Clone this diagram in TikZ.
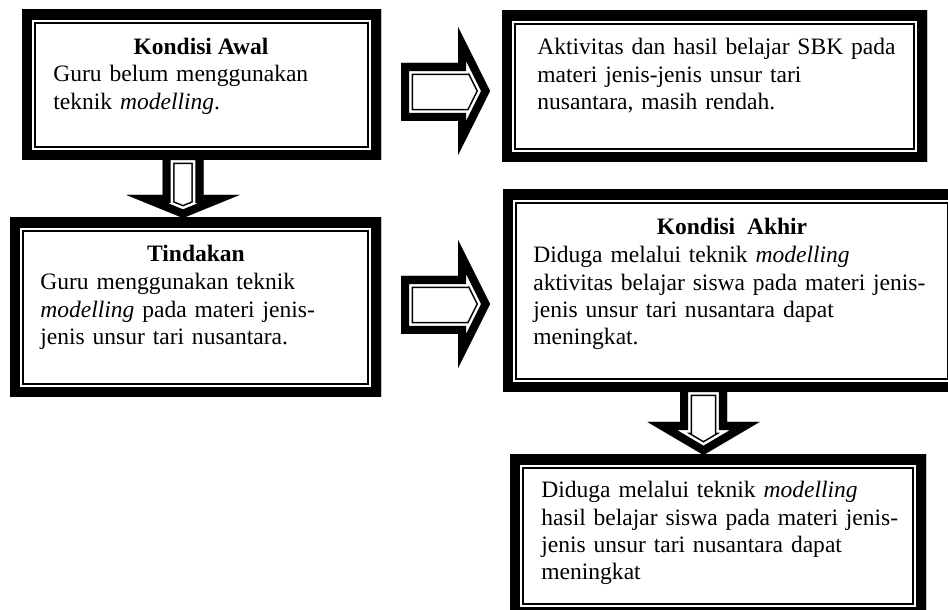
\documentclass[tikz,border=0pt]{standalone}
\usepackage{fontspec}
\setmainfont{Liberation Serif}
\usetikzlibrary{positioning,fit}

% bingkai tebal-tipis: clip ke bentuk, lalu garis tebal di dalamnya
\newcommand{\bingkai}[4]{%
  \begin{scope}
    \clip #1;
    \fill[white] #1;
    \draw[line width=#2] #1;
    \draw[white, line width=#3] #1;
    \draw[line width=#4] #1;
  \end{scope}}

\begin{document}
\begin{tikzpicture}[x=0.51pt, y=-0.51pt, line join=miter]
    % Gaya
    \tikzstyle{kotak}=[inner sep=0pt, outer sep=0pt]
    \tikzstyle{judul}=[font=\fontsize{12}{13.8}\selectfont\bfseries, anchor=base, inner sep=0pt]
    \tikzstyle{isi}=[font=\fontsize{12}{13.8}\selectfont, text width=8cm, align=left, anchor=base west, inner sep=0pt]

    \useasboundingbox (0,0) rectangle (948,610);

    % Panah (digambar dulu, kotak menutupinya)
    \bingkai{(401,63) -- (458,63) -- (458,27) -- (490,91) -- (458,155) -- (458,121) -- (401,121) -- cycle}{12.4pt}{10.8pt}{8.2pt}
    \bingkai{(401,276) -- (458,276) -- (458,240) -- (490,304) -- (458,368) -- (458,334) -- (401,334) -- cycle}{12.4pt}{10.8pt}{8.2pt}
    \bingkai{(162.5,152) -- (203.5,152) -- (203.5,195) -- (239.5,195) -- (183,218) -- (126.5,195) -- (162.5,195) -- cycle}{12.4pt}{10.8pt}{8.2pt}
    \bingkai{(680,384) -- (727,384) -- (727,422) -- (759.5,422) -- (703.5,455) -- (647.5,422) -- (680,422) -- cycle}{12.4pt}{10.8pt}{8.2pt}

    % Kotak
    \node[kotak, fit={(22,10) (381,160)}] (awal) {};
    \node[kotak, fit={(502,11) (927,162)}] (masalah) {};
    \node[kotak, fit={(10,218) (381,397)}] (tindakan) {};
    \node[kotak, fit={(503,190) (961,392)}] (akhir) {};
    \node[kotak, fit={(510,455) (926,617)}] (hasil) {};
    \bingkai{(awal.south west) rectangle (awal.north east)}{14pt}{12.2pt}{10.2pt}
    \bingkai{(masalah.south west) rectangle (masalah.north east)}{14pt}{12.2pt}{10.2pt}
    \bingkai{(tindakan.south west) rectangle (tindakan.north east)}{14pt}{12.2pt}{10.2pt}
    \bingkai{(akhir.south west) rectangle (akhir.north east)}{14pt}{12.2pt}{10.2pt}
    \bingkai{(hasil.south west) rectangle (hasil.north east)}{14pt}{12.2pt}{10.2pt}

    % Teks
    \node[judul] (awal-judul) at (201,55) {Kondisi Awal};
    \node[isi] (awal-isi) at (53,82) {Guru belum menggunakan\\teknik \textit{modelling}.};

    \node[isi] (masalah-isi) at (537,55) {Aktivitas dan hasil belajar SBK pada\\materi jenis-jenis unsur tari\\nusantara, masih rendah.};

    \node[judul] (tindakan-judul) at (196,262) {Tindakan};
    \node[isi] (tindakan-isi) at (40,290) {Guru menggunakan teknik\\\textit{modelling} pada materi jenis-\\jenis unsur tari nusantara.};

    \node[judul] (akhir-judul) at (732,235) {Kondisi\ \ Akhir};
    \node[isi] (akhir-isi) at (533,263) {Diduga melalui teknik \textit{modelling}\\aktivitas belajar siswa pada materi jenis-\\jenis unsur tari nusantara dapat\\meningkat.};

    \node[isi] (hasil-isi) at (541,498) {Diduga melalui teknik \textit{modelling}\\hasil belajar siswa pada materi jenis-\\jenis unsur tari nusantara dapat\\meningkat};
\end{tikzpicture}
\end{document}
